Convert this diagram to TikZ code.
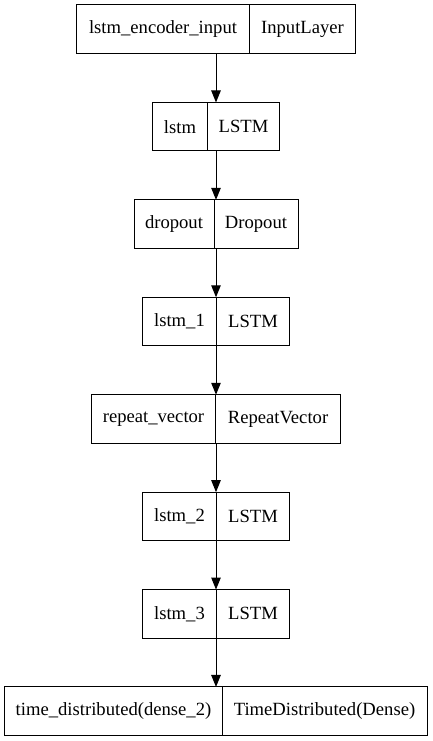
\documentclass[tikz,border=0pt]{standalone}
\usepackage{fontspec}
\setmainfont{Liberation Serif}
\usetikzlibrary{arrows.meta}

\tikzset{
  layer/.style={minimum height=48.5bp,inner sep=0pt,outer sep=0pt},
  part/.style={draw,line width=1bp,minimum height=48.5bp,inner sep=0pt,outer sep=0pt,anchor=west},
  edge/.style={line width=1bp,-{Triangle[length=12bp,width=9.5bp]}}
}

\begin{document}
\begin{tikzpicture}[x=1bp,y=-1bp,font=\fontsize{18.7}{22}\selectfont]
  \useasboundingbox (0,0) rectangle (432,741);
  % one layer = outer box + name field + type field
  \node[layer,minimum width=279bp] (input) at (216,29.25){};
  \node[part,minimum width=173bp] (inputname) at (input.west){lstm\_encoder\_input};
  \node[part,minimum width=106bp] (inputtype) at (inputname.east){InputLayer};

  \node[layer,minimum width=127bp] (lstm) at (216,126.7){};
  \node[part,minimum width=55bp] (lstmname) at (lstm.west){lstm};
  \node[part,minimum width=72bp] (lstmtype) at (lstmname.east){LSTM};

  \node[layer,minimum width=164bp] (dropout) at (216,224.1){};
  \node[part,minimum width=80bp] (dropoutname) at (dropout.west){dropout};
  \node[part,minimum width=84bp] (dropouttype) at (dropoutname.east){Dropout};

  \node[layer,minimum width=147bp] (lstmone) at (216,321.5){};
  \node[part,minimum width=74bp] (lstmonename) at (lstmone.west){lstm\_1};
  \node[part,minimum width=73bp] (lstmonetype) at (lstmonename.east){LSTM};

  \node[layer,minimum width=249bp] (repeat) at (216,419){};
  \node[part,minimum width=124bp] (repeatname) at (repeat.west){repeat\_vector};
  \node[part,minimum width=125bp] (repeattype) at (repeatname.east){RepeatVector};

  \node[layer,minimum width=147bp] (lstmtwo) at (216,516.4){};
  \node[part,minimum width=74bp] (lstmtwoname) at (lstmtwo.west){lstm\_2};
  \node[part,minimum width=73bp] (lstmtwotype) at (lstmtwoname.east){LSTM};

  \node[layer,minimum width=147bp] (lstmthree) at (216,613.8){};
  \node[part,minimum width=74bp] (lstmthreename) at (lstmthree.west){lstm\_3};
  \node[part,minimum width=73bp] (lstmthreetype) at (lstmthreename.east){LSTM};

  \node[layer,minimum width=422bp] (dense) at (216,711.2){};
  \node[part,minimum width=217bp] (densename) at (dense.west){time\_distributed(dense\_2)};
  \node[part,minimum width=205bp] (densetype) at (densename.east){TimeDistributed(Dense)};

  % edges
  \draw[edge] (input) -- (lstm);
  \draw[edge] (lstm) -- (dropout);
  \draw[edge] (dropout) -- (lstmone);
  \draw[edge] (lstmone) -- (repeat);
  \draw[edge] (repeat) -- (lstmtwo);
  \draw[edge] (lstmtwo) -- (lstmthree);
  \draw[edge] (lstmthree) -- (dense);
\end{tikzpicture}
\end{document}
